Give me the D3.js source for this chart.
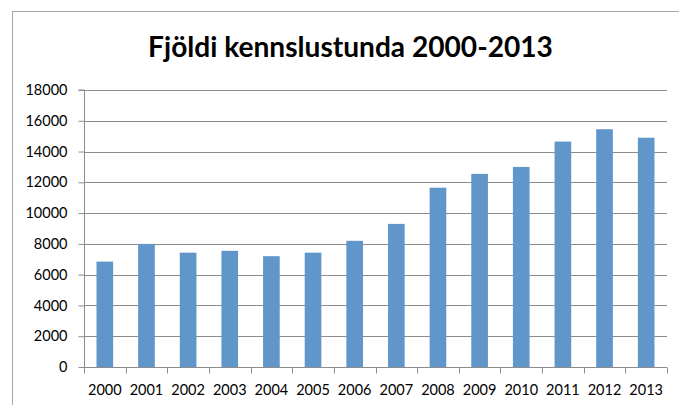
<!DOCTYPE html>
<html>
<head>
<meta charset="utf-8">
<script src="https://cdnjs.cloudflare.com/ajax/libs/d3/7.8.5/d3.min.js"></script>
<style>
  body { margin: 0; background: #fff; }
  svg { display: block; font-family: Lato, "Open Sans", sans-serif; }
</style>
</head>
<body>
<div id="chart"></div>
<script>
const years = ["2000", "2001", "2002", "2003", "2004", "2005", "2006",
               "2007", "2008", "2009", "2010", "2011", "2012", "2013"];
const lessons = [6850, 8000, 7430, 7550, 7200, 7430, 8200,
                 9300, 11650, 12550, 13000, 14650, 15450, 14900];
const yTicks = [0, 2000, 4000, 6000, 8000, 10000, 12000, 14000, 16000, 18000];
const title = "Fjöldi kennslustunda 2000-2013";

const width = 679, height = 405;
const margin = {top: 90, right: 12, bottom: 38, left: 84};

const svg = d3.select("#chart").append("svg")
    .attr("width", width)
    .attr("height", height);

// outer chart border (clipped on right and bottom like the source)
svg.append("rect")
    .attr("x", 12.5).attr("y", 11.5)
    .attr("width", 700).attr("height", 420)
    .attr("fill", "none")
    .attr("stroke", "#a6a6a6");

const x = d3.scaleBand()
    .domain(years)
    .range([margin.left, width - margin.right])
    .paddingInner(0.6)
    .paddingOuter(0.3);

const y = d3.scaleLinear()
    .domain([0, 18000])
    .range([height - margin.bottom, margin.top]);

// gridlines
svg.append("g")
  .selectAll("line")
  .data(yTicks.filter(d => d > 0))
  .join("line")
    .attr("x1", margin.left)
    .attr("x2", width - margin.right)
    .attr("y1", d => Math.round(y(d)) + 0.5)
    .attr("y2", d => Math.round(y(d)) + 0.5)
    .attr("stroke", "#8c8c8c");

// bars
svg.append("g")
  .selectAll("rect")
  .data(years)
  .join("rect")
    .attr("x", d => x(d))
    .attr("width", x.bandwidth())
    .attr("y", (d, i) => y(lessons[i]))
    .attr("height", (d, i) => y(0) - y(lessons[i]))
    .attr("fill", "#6196cb");

// y axis
const yAxis = svg.append("g")
    .attr("transform", `translate(${margin.left + 0.5},0)`)
    .call(d3.axisLeft(y).tickValues(yTicks).tickSize(6).tickPadding(11).tickFormat(d3.format("d")));
yAxis.selectAll("line, path").attr("stroke", "#8c8c8c");
yAxis.select(".domain").attr("d", `M-6,${y(18000)}H0V${y(0)}`);
yAxis.selectAll("text").attr("font-size", 14.5).attr("fill", "#000").attr("font-family", "Lato, sans-serif");

// x axis with ticks at category boundaries
const bottomY = Math.round(y(0)) + 0.5;
const step = x.step();
const boundaries = d3.range(years.length + 1).map(i => margin.left + i * (width - margin.left - margin.right) / years.length);
const xg = svg.append("g");
xg.append("line")
    .attr("x1", margin.left).attr("x2", width - margin.right)
    .attr("y1", bottomY).attr("y2", bottomY)
    .attr("stroke", "#8c8c8c");
xg.selectAll("line.tick")
  .data(boundaries)
  .join("line")
    .attr("class", "tick")
    .attr("x1", d => Math.round(d) + 0.5).attr("x2", d => Math.round(d) + 0.5)
    .attr("y1", bottomY).attr("y2", bottomY + 6)
    .attr("stroke", "#8c8c8c");
xg.selectAll("text")
  .data(years)
  .join("text")
    .attr("x", d => x(d) + x.bandwidth() / 2)
    .attr("y", 395)
    .attr("text-anchor", "middle")
    .attr("font-size", 14.5)
    .text(d => d);

// title, sized to the source width
const t = svg.append("text")
    .attr("x", 350.5)
    .attr("y", 57)
    .attr("text-anchor", "middle")
    .attr("font-weight", "bold")
    .attr("font-size", 24)
    .text(title);
const tw = t.node().getComputedTextLength();
t.attr("font-size", 24 * 405 / tw);
</script>
</body>
</html>
